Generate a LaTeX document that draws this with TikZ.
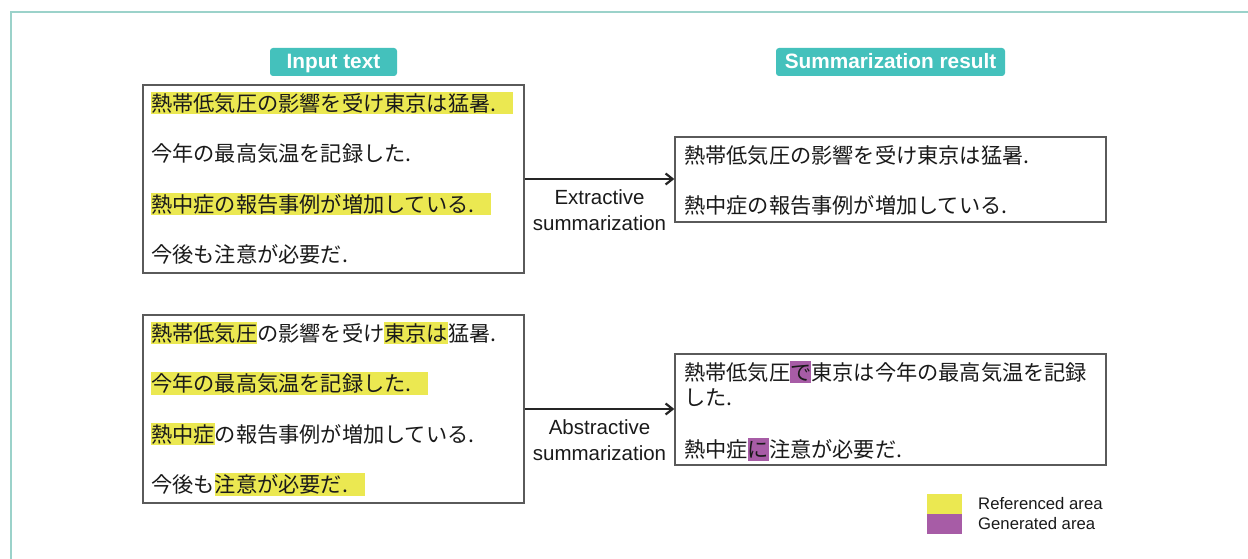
\documentclass[tikz,border=0pt]{standalone}
\usepackage{fontspec}
\setmainfont{Liberation Sans}
\newfontfamily\jp{Noto Sans CJK JP}
\usetikzlibrary{arrows.meta}
\definecolor{hlyellow}{HTML}{EBE851}
\definecolor{hlpurple}{HTML}{A75CA6}
\definecolor{badgeteal}{HTML}{44C1BC}
\definecolor{framecol}{HTML}{9BD2CA}
\definecolor{boxgray}{HTML}{5A5A5A}
\definecolor{txt}{HTML}{1A1A1A}
\newcommand\hlstrut{\rule[-0.13em]{0pt}{1.06em}}
\newcommand\HLy[1]{{\setlength\fboxsep{0pt}\colorbox{hlyellow}{\hlstrut#1}}}
\newcommand\HLp[1]{{\setlength\fboxsep{0pt}\colorbox{hlpurple}{\hlstrut#1}}}
\begin{document}
\begin{tikzpicture}[x=1pt,y=-1pt,
 badge/.style={fill=badgeteal, rounded corners=3pt, minimum width=#1, minimum height=28pt, inner sep=0pt, text height=13pt, text depth=0pt, text=white, font=\fontsize{20.8}{24}\selectfont\bfseries},
 panel/.style={draw=boxgray, line width=1.3pt, fill=white, inner sep=0pt},
 jline/.style={anchor=west, inner sep=0pt, text=txt, font=\jp\fontsize{21.2}{25}\selectfont},
 conn/.style={draw=txt!95, line width=2pt, -{Straight Barb[length=7pt,width=11pt,line width=2.2pt]}},
 lbl/.style={inner sep=0pt, align=center, text=txt, font=\fontsize{20.5}{26}\selectfont},
 legbox/.style={minimum width=35pt, minimum height=20pt, inner sep=0pt},
 legtext/.style={anchor=west, inner sep=0pt, text=txt, font=\fontsize{16.7}{20}\selectfont}]
\clip (0,0) rectangle (1248,559);
\fill[white] (0,0) rectangle (1248,559);
% outer frame
\draw[framecol, line width=2pt] (11,600) -- (11,12) -- (1300,12);
% headers
\node[badge=127pt] (inhead) at (333.5,62) {Input text};
\node[badge=229pt] (outhead) at (890.5,62) {Summarization result};
% panels
\node[panel, minimum width=381pt, minimum height=188pt] (in1) at (333.5,179) {};
\node[panel, minimum width=431pt, minimum height=85pt] (res1) at (890.5,179.5) {};
\node[panel, minimum width=381pt, minimum height=188pt] (in2) at (333.5,409) {};
\node[panel, minimum width=431pt, minimum height=111pt] (res2) at (890.5,409.5) {};
% input text (extractive)
\node[jline] (a1) at (151,103) {\HLy{熱帯低気圧の影響を受け東京は猛暑.\hspace{17pt}}};
\node[jline] (a2) at (151,153.5) {\hlstrut 今年の最高気温を記録した.};
\node[jline] (a3) at (151,204) {\HLy{熱中症の報告事例が増加している.\hspace{17pt}}};
\node[jline] (a4) at (151,254.5) {\hlstrut 今後も注意が必要だ.};
% extractive result
\node[jline] (b1) at (684,155) {\hlstrut 熱帯低気圧の影響を受け東京は猛暑.};
\node[jline] (b2) at (684,205.5) {\hlstrut 熱中症の報告事例が増加している.};
% input text (abstractive)
\node[jline] (c1) at (151,333) {\HLy{熱帯低気圧}の影響を受け\HLy{東京は}猛暑.};
\node[jline] (c2) at (151,383.5) {\HLy{今年の最高気温を記録した.\hspace{17pt}}};
\node[jline] (c3) at (151,434) {\HLy{熱中症}の報告事例が増加している.};
\node[jline] (c4) at (151,484.5) {\hlstrut 今後も\HLy{注意が必要だ.\hspace{17pt}}};
% abstractive result
\node[jline] (d1) at (684,372) {\hlstrut 熱帯低気圧\HLp{で}東京は今年の最高気温を記録};
\node[jline] (d2) at (684,397) {\hlstrut した.};
\node[jline] (d3) at (684,449.5) {\hlstrut 熱中症\HLp{に}注意が必要だ.};
% connectors
\draw[conn] (in1.east) -- (in1.east -| res1.west)
  node[midway, below=10pt, lbl] (extlbl) {Extractive\\summarization};
\draw[conn] (in2.east) -- (in2.east -| res2.west)
  node[midway, below=10pt, lbl] (abslbl) {Abstractive\\summarization};
% legend
\node[legbox, fill=hlyellow] (legy) at (944.5,503.5) {};
\node[legbox, fill=hlpurple] (legp) at (944.5,524) {};
\node[legtext] (legyt) at (978,504) {Referenced area};
\node[legtext] (legpt) at (978,523.5) {Generated area};
\end{tikzpicture}
\end{document}
